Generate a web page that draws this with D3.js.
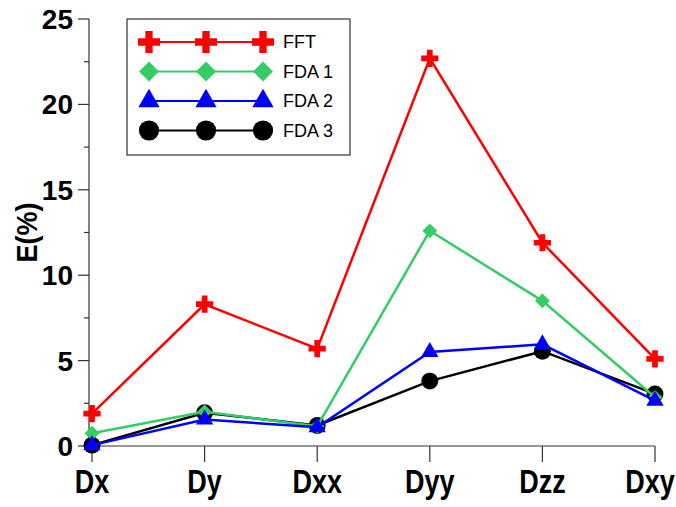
<!DOCTYPE html>
<html>
<head>
<meta charset="utf-8">
<script src="https://cdn.jsdelivr.net/npm/d3@7"></script>
<style>
  html, body { margin: 0; padding: 0; background: #fff; }
  svg { display: block; font-family: "Liberation Sans", Arial, sans-serif; }
</style>
</head>
<body>
<svg id="chart" width="676" height="507"></svg>
<script>
// data
const categories = ["Dx", "Dy", "Dxx", "Dyy", "Dzz", "Dxy"];
const fft  = [1.9, 8.3, 5.7, 22.7, 11.9, 5.1];
const fda1 = [0.75, 2.0, 1.15, 12.6, 8.5, 2.85];
const fda2 = [0.05, 1.55, 1.1, 5.5, 5.95, 2.65];
const fda3 = [0.05, 1.95, 1.2, 3.8, 5.55, 3.05];
const yTicks = [0, 5, 10, 15, 20, 25];
const yMinorTicks = [2.5, 7.5, 12.5, 17.5, 22.5];

const series = [
    { name: "FDA 3", values: fda3, color: "#000000", shape: "circle" },
    { name: "FDA 1", values: fda1, color: "#35cc66", shape: "diamond" },
    { name: "FDA 2", values: fda2, color: "#0000ff", shape: "triangle" },
    { name: "FFT", values: fft, color: "#ff0000", shape: "cross" }
];
const legendOrder = ["FFT", "FDA 1", "FDA 2", "FDA 3"];

const svg = d3.select("#chart");

const x = d3.scalePoint()
    .domain(categories)
    .range([92, 655]);

const y = d3.scaleLinear()
    .domain([0, 25])
    .range([446, 19]);

// marker shapes; small = on chart, big = in legend
function symbolFor(shape, big) {
    if (shape === "cross") return d3.symbol(d3.symbolCross, big ? 270 : 165)();
    if (shape === "diamond") return d3.symbol(d3.symbolSquare, big ? 200 : 110)();
    if (shape === "triangle") return d3.symbol(d3.symbolTriangle, big ? 195 : 130)();
    return d3.symbol(d3.symbolCircle, big ? 320 : 225)();
}
function rotFor(shape) {
    return shape === "diamond" ? " rotate(45)" : "";
}

// y axis
const yAxis = svg.append("g").attr("transform", "translate(89,0)");
yAxis.append("line")
    .attr("y1", y(0)).attr("y2", y(25))
    .attr("stroke", "#333").attr("stroke-width", 1.2);
yAxis.selectAll("line.major")
    .data(yTicks).enter().append("line")
    .attr("class", "major")
    .attr("x1", -11).attr("x2", 0)
    .attr("y1", d => y(d)).attr("y2", d => y(d))
    .attr("stroke", "#333").attr("stroke-width", 1.2);
yAxis.selectAll("line.minor")
    .data(yMinorTicks).enter().append("line")
    .attr("class", "minor")
    .attr("x1", -5).attr("x2", 0)
    .attr("y1", d => y(d)).attr("y2", d => y(d))
    .attr("stroke", "#333").attr("stroke-width", 1.2);
yAxis.selectAll("text")
    .data(yTicks).enter().append("text")
    .attr("x", -16)
    .attr("y", d => y(d))
    .attr("dy", "0.36em")
    .attr("text-anchor", "end")
    .style("font-size", "28px")
    .style("font-weight", "bold")
    .text(d => d);

svg.append("text")
    .attr("transform", "translate(37," + y(12.5) + ") rotate(-90) scale(1,1.1)")
    .attr("text-anchor", "middle")
    .style("font-size", "27px")
    .style("font-weight", "bold")
    .text("E(%)");

// x axis
const xAxis = svg.append("g").attr("transform", "translate(0," + y(0) + ")");
xAxis.append("line")
    .attr("x1", 89).attr("x2", x("Dxy"))
    .attr("stroke", "#333").attr("stroke-width", 1.2);
xAxis.selectAll("line.tick")
    .data(categories).enter().append("line")
    .attr("class", "tick")
    .attr("x1", d => x(d)).attr("x2", d => x(d))
    .attr("y1", 0).attr("y2", 16)
    .attr("stroke", "#333").attr("stroke-width", 1.2);
xAxis.selectAll("text")
    .data(categories).enter().append("text")
    .attr("transform", (d, i) => "translate(" + (x(d) + (i === categories.length - 1 ? -5 : 0)) + ",47) scale(1,1.2)")
    .attr("text-anchor", "middle")
    .style("font-size", "27px")
    .style("font-weight", "bold")
    .text(d => d);

// lines + markers
const line = d3.line()
    .x((d, i) => x(categories[i]))
    .y(d => y(d));

series.forEach(s => {
    const g = svg.append("g");
    g.append("path")
        .attr("d", line(s.values))
        .attr("fill", "none")
        .attr("stroke", s.color)
        .attr("stroke-width", 2.5);
    g.selectAll("path.pt")
        .data(s.values).enter().append("path")
        .attr("class", "pt")
        .attr("d", symbolFor(s.shape, false))
        .attr("transform", (d, i) => "translate(" + x(categories[i]) + "," + y(d) + ")" + rotFor(s.shape))
        .attr("fill", s.color);
});

// legend
const legend = svg.append("g");
legend.append("rect")
    .attr("x", 127).attr("y", 19)
    .attr("width", 223).attr("height", 136)
    .attr("fill", "#fff")
    .attr("stroke", "#333").attr("stroke-width", 1.2);
const legendXs = [149, 206, 263];
legendOrder.forEach((name, k) => {
    const s = series.find(d => d.name === name);
    const ly = 42 + k * 29.5;
    legend.append("line")
        .attr("x1", legendXs[0]).attr("x2", legendXs[2])
        .attr("y1", ly).attr("y2", ly)
        .attr("stroke", s.color).attr("stroke-width", 2);
    legendXs.forEach(lx => {
        legend.append("path")
            .attr("d", symbolFor(s.shape, true))
            .attr("transform", "translate(" + lx + "," + ly + ")" + rotFor(s.shape))
            .attr("fill", s.color);
    });
    legend.append("text")
        .attr("x", 283).attr("y", ly)
        .attr("dy", "0.36em")
        .style("font-size", "18px")
        .text(name);
});
</script>
</body>
</html>
